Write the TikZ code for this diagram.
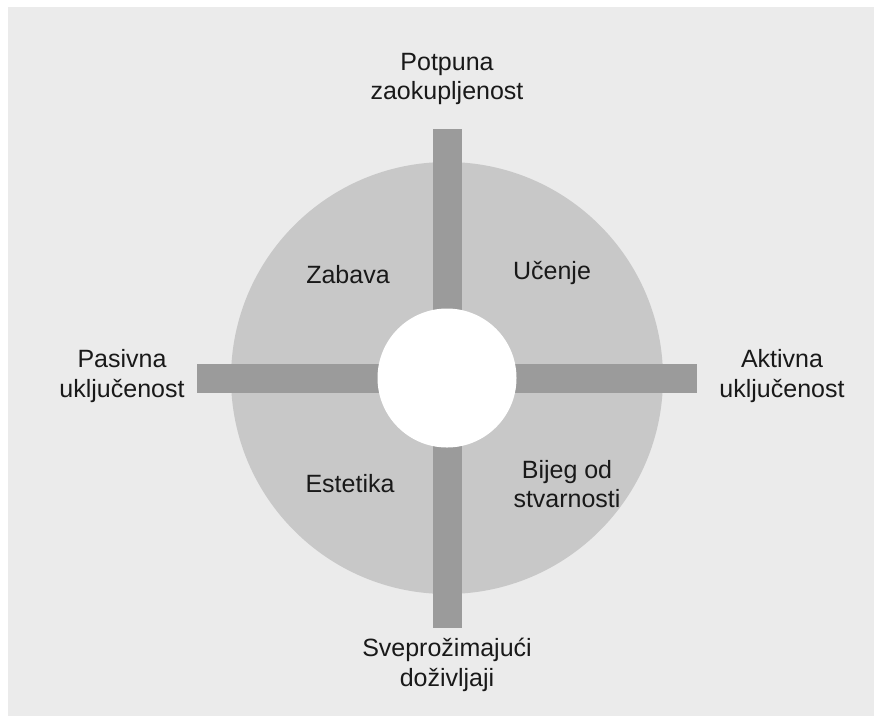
\documentclass[tikz,border=0pt]{standalone}
\usepackage{fontspec}
\setmainfont{Liberation Sans}
\definecolor{bgpanel}{RGB}{235,235,235}
\definecolor{discfill}{RGB}{200,200,200}
\definecolor{axisbar}{RGB}{155,155,155}
\definecolor{labeltext}{RGB}{25,25,25}
\begin{document}
\begin{tikzpicture}[x=1pt,y=-1pt,
  lbl/.style={align=center,text=labeltext,inner sep=0pt,
    font=\fontsize{25}{29.5}\selectfont},
  bar/.style={fill=axisbar,draw=none}]
\useasboundingbox (0,0) rectangle (874,716);
% panel
\fill[bgpanel] (8,7) rectangle (874,716);
% outer disc
\fill[discfill] (447,378) circle[radius=216];
% axes
\fill[bar] (432.5,129) rectangle (461.5,628);
\fill[bar] (197,363.5) rectangle (697,392.5);
% centre hole
\fill[white] (447,378) circle[radius=69.5];
% axis end labels
\node[lbl] (top) at (447,79) {Potpuna\\zaokupljenost};
\node[lbl] (left) at (122,376) {Pasivna\\uključenost};
\node[lbl] (right) at (782,376) {Aktivna\\uključenost};
\node[lbl] (bottom) at (447,665) {Sveprožimajući\\doživljaji};
% quadrant labels
\node[lbl] (q1) at (348,275) {Zabava};
\node[lbl] (q2) at (552,273) {Učenje};
\node[lbl] (q3) at (350,484) {Estetika};
\node[lbl] (q4) at (567,484) {Bijeg od\\stvarnosti};
\end{tikzpicture}
\end{document}
